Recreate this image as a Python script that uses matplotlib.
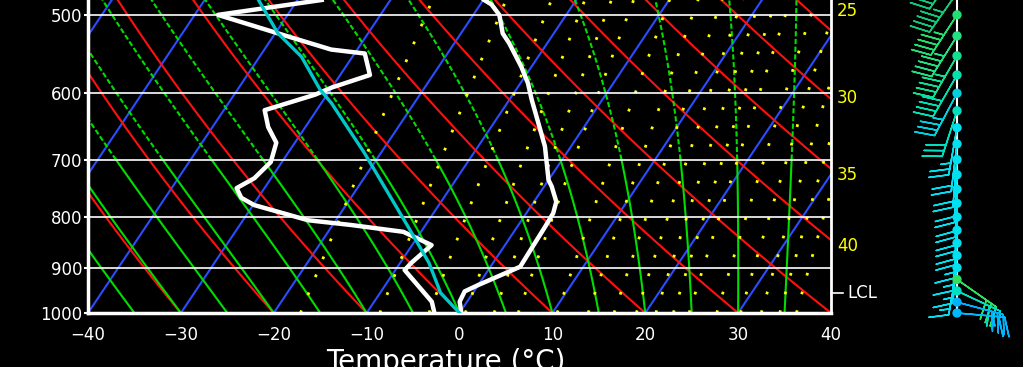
import numpy as np
import matplotlib
matplotlib.use("Agg")
import matplotlib.pyplot as plt
from matplotlib.ticker import NullLocator

# sounding (hPa, deg C)
temp_p = [1000, 974, 951, 937, 898, 860, 818, 793, 772, 745, 734, 679, 643, 609, 586, 564, 534, 522, 500, 488, 483]
temp_c = [0.2, -0.8, -1.0, 0.0, 3.2, 3.1, 3.0, 2.9, 2.4, 0.8, 0.0, -2.8, -5.2, -7.6, -9.2, -11.1, -14.1, -15.5, -17.2, -18.8, -19.9]

dwpt_p = [1000, 974, 905, 890, 854, 828, 815, 806, 778, 765, 748, 731, 704, 673, 649, 624, 602, 592, 575, 547, 542, 526, 500, 483]
dwpt_c = [-2.7, -3.8, -9.0, -8.8, -7.9, -11.9, -18.0, -23.0, -29.9, -31.8, -33.0, -31.8, -31.2, -32.0, -34.0, -35.6, -31.3, -30.0, -26.8, -28.9, -32.8, -38.3, -47.5, -37.4]

parcel_p = [1000, 954, 890, 819, 689, 614, 595, 551, 522, 483]
parcel_c = [0.0, -3.5, -6.9, -11.7, -21.8, -28.9, -31.1, -35.5, -39.7, -44.2]
lcl_p = 954

# yellow numbers on the right edge
side_labels = ["25", "30", "35", "40"]
side_label_p = [496, 606, 725, 856]

# wind column
wind_p = [450, 475, 500, 525, 550, 575, 600, 625, 650, 675, 700, 725, 750, 775,
          800, 825, 850, 875, 900, 925, 950, 975, 1000]
wind_kt = [45, 45, 45, 45, 45, 40, 35, 30, 25, 20, 20, 20, 20, 20,
           20, 15, 15, 15, 15, 30, 30, 30, 25]
wind_dir = [215, 215, 213, 212, 210, 210, 208, 198, 190, 187, 185, 183, 182, 182,
            182, 183, 185, 185, 190, 125, 115, 105, 95]
wind_col = ["#10c878", "#10c878", "#20e070", "#20e080", "#10e090", "#00e0b0", "#00d0e0",
            "#00e0c0", "#00e0f0", "#00e0f0", "#00e0f0", "#00e0f0", "#00e0f0", "#00e0f0",
            "#00e0f0", "#00e0f0", "#00e0f0", "#00e0f0", "#00e0f0", "#30e060", "#00e0c0",
            "#00b0ff", "#00b8ff"]

p_ticks = [500, 600, 700, 800, 900, 1000]
t_ticks = list(range(-40, 41, 10))

# background line sets (values at 1000 hPa)
isotherms = list(range(-80, 41, 10))
dry_adiabats = list(range(-40, 91, 10))
moist_adiabats = list(range(-40, 36, 5))
mix_ratios = [1, 2, 3, 4, 5, 6, 8, 10, 12, 14, 16, 18, 20, 24, 28, 32, 36, 40]

K_SKEW = 31.0


def skew(t, p):
    return np.asarray(t, float) + K_SKEW * np.log(1000.0 / np.asarray(p, float))


def sat_vp(tc):
    return 6.112 * np.exp(17.67 * tc / (tc + 243.5))


def lapse(tk, p):
    es = sat_vp(tk - 273.15)
    rs = 0.622 * es / (p - es)
    return (287.04 * tk + 2.501e6 * rs) / (1005.7 + 2.501e6 ** 2 * rs * 0.622 / (287.04 * tk ** 2))


def moist_line(t0, p):
    t = t0 + 273.15
    out = [t]
    for i in range(1, len(p)):
        dlnp = np.log(p[i] / p[i - 1])
        k1 = lapse(t, p[i - 1])
        k2 = lapse(t + 0.5 * dlnp * k1, np.sqrt(p[i] * p[i - 1]))
        t = t + dlnp * k2
        out.append(t)
    return np.array(out) - 273.15


def mix_line(w, p):
    e = w / 1000.0 * p / (0.622 + w / 1000.0)
    a = np.log(e / 6.112)
    return 243.5 * a / (17.67 - a)


fig = plt.figure(figsize=(10.23, 3.67), dpi=100, facecolor="black")
ax = fig.add_axes([88 / 1023, 54 / 367, 743 / 1023, 313 / 367])
ax.set_facecolor("black")
ax.set_yscale("log")

pg = np.geomspace(1000, 460, 160)

for t in isotherms:
    ax.plot(skew(np.full_like(pg, t), pg), pg, color="#2a4dff", lw=1.5, zorder=1)

for t in dry_adiabats:
    tc = (t + 273.15) * (pg / 1000.0) ** 0.2854 - 273.15
    ax.plot(skew(tc, pg), pg, color="#ff1010", lw=1.5, zorder=1)

for t in moist_adiabats:
    tc = moist_line(t, pg)
    lo = pg >= 700
    hi = pg <= 701
    ax.plot(skew(tc[lo], pg[lo]), pg[lo], color="#00dd00", lw=1.5, zorder=1)
    ax.plot(skew(tc[hi], pg[hi]), pg[hi], color="#00dd00", lw=1.5, zorder=1,
            ls=(0, (2.5, 1.2)))

for w in mix_ratios:
    ax.plot(skew(mix_line(w, pg), pg), pg, color="#ffff00", lw=2, zorder=1,
            ls=(0, (1, 6)))

for p in p_ticks[:-1]:
    ax.axhline(p, color="white", lw=1.2, zorder=2)

ax.plot(skew(temp_c, temp_p), temp_p, color="white", lw=3.2, zorder=4)
ax.plot(skew(dwpt_c, dwpt_p), dwpt_p, color="white", lw=3.2, zorder=4)
ax.plot(skew(parcel_c, parcel_p), parcel_p, color="#00c8c8", lw=2.4, zorder=5)

ax.set_xlim(-40, 40)
ax.set_ylim(1000, 483)
ax.spines["top"].set_visible(False)
for s in ["left", "bottom"]:
    ax.spines[s].set_color("white")
    ax.spines[s].set_linewidth(2.5)
ax.spines["right"].set_color("white")
ax.spines["right"].set_linewidth(2)

ax.set_yticks(p_ticks)
ax.set_yticklabels([str(p) for p in p_ticks])
ax.yaxis.set_minor_locator(NullLocator())
ax.set_xticks(t_ticks)
ax.tick_params(axis="y", colors="white", labelsize=12, length=3, width=1.5, pad=1)
ax.tick_params(axis="x", colors="white", labelsize=12, length=0, pad=9)

fig.text(446 / 1023, (367 - 370) / 367, "Temperature (°C)", color="white",
         fontsize=20, ha="center", va="baseline")

tr = ax.get_yaxis_transform()
for lab, p in zip(side_labels, side_label_p):
    ax.text(1.008, p, lab, transform=tr, color="#ffff00", fontsize=12,
            va="center", ha="left")
ax.plot([1.0, 1.016], [lcl_p, lcl_p], transform=tr, color="white", lw=1.2, clip_on=False)
ax.text(1.022, lcl_p, "LCL", transform=tr, color="white", fontsize=12,
        va="center", ha="left")

# wind barbs
ax2 = fig.add_axes([880 / 1023, 54 / 367, 143 / 1023, 313 / 367])
ax2.set_xlim(0, 143)
ax2.set_yscale("log")
ax2.set_ylim(1000, 483)
ax2.axis("off")
stn_x = 77
spd = np.array(wind_kt, float)
rad = np.deg2rad(wind_dir)
u = -spd * np.sin(rad)
v = -spd * np.cos(rad)
xs = np.full(len(wind_p), stn_x)
ax2.plot([stn_x, stn_x], [1000, 470], color="white", lw=1.5, zorder=2)
ax2.barbs(xs, wind_p, u, v, length=8.3, barbcolor=wind_col, linewidth=1.1,
          clip_on=False, zorder=3)
ax2.scatter(xs, wind_p, s=45, c=wind_col, zorder=4, clip_on=False, linewidths=0)

fig.savefig("out.png", dpi=100, facecolor="black")
